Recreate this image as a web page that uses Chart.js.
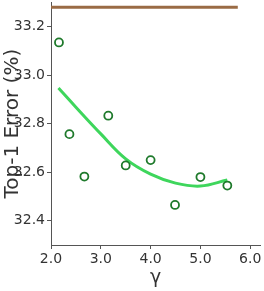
<!DOCTYPE html>
<html>
<head>
<meta charset="utf-8">
<script src="https://cdn.jsdelivr.net/npm/chart.js@4"></script>
<style>
  html, body { margin: 0; padding: 0; background: #fff; overflow: hidden; }
  #wrap { width: 266px; height: 299px; margin-top: -8px; }
</style>
</head>
<body>
<div id="wrap"><canvas id="chart"></canvas></div>
<script>
// measured runs
const gammaValues = [2.16, 2.37, 2.67, 3.15, 3.50, 4.00, 4.49, 5.00, 5.54];
const errorValues = [33.135, 32.757, 32.582, 32.833, 32.628, 32.650, 32.465, 32.580, 32.545];

// fitted trend
const fitX = [2.15, 2.5, 3.0, 3.5, 4.0, 4.5, 5.0, 5.54];
const fitY = [32.947, 32.868, 32.758, 32.655, 32.592, 32.555, 32.543, 32.568];

// reference line
const refX = [2.0, 5.75];
const refY = [33.28, 33.28];

const xTicks = [2.0, 3.0, 4.0, 5.0, 6.0];
const yTicks = [32.4, 32.6, 32.8, 33.0, 33.2];

const toPoints = (xs, ys) => xs.map((x, i) => ({ x: x, y: ys[i] }));
const axisColor = "#555";
const textColor = "#333";

new Chart(document.getElementById("chart"), {
  type: "scatter",
  data: {
    datasets: [
      {
        label: "runs",
        data: toPoints(gammaValues, errorValues),
        pointRadius: 4,
        pointBorderWidth: 1.8,
        pointBorderColor: "#1f7a2c",
        pointBackgroundColor: "rgba(255,255,255,0)",
        showLine: false
      },
      {
        label: "fit",
        data: toPoints(fitX, fitY),
        showLine: true,
        borderColor: "#3ed65c",
        borderWidth: 3,
        pointRadius: 0,
        tension: 0.4
      },
      {
        label: "ref",
        data: toPoints(refX, refY),
        showLine: true,
        borderColor: "#9a6b45",
        borderWidth: 3,
        pointRadius: 0
      }
    ]
  },
  options: {
    responsive: true,
    maintainAspectRatio: false,
    animation: false,
    layout: { padding: { top: 0, right: 0, left: 0, bottom: 0 } },
    plugins: { legend: { display: false }, tooltip: { enabled: false } },
    scales: {
      x: {
        type: "linear",
        min: 2.0,
        max: 6.2,
        afterBuildTicks: s => { s.ticks = xTicks.map(v => ({ value: v })); },
        afterFit: s => { s.height = 46; },
        grid: { display: true, drawOnChartArea: false, drawTicks: true, tickLength: 4, color: axisColor },
        border: { display: true, color: axisColor, width: 1 },
        ticks: {
          color: textColor, padding: 2,
          font: { family: "DejaVu Sans", size: 14 },
          maxRotation: 0,
          callback: v => v.toFixed(1)
        },
        title: {
          display: true, text: "γ", color: textColor,
          font: { family: "DejaVu Sans", size: 19 },
          padding: { top: 0, bottom: 2 }
        }
      },
      y: {
        type: "linear",
        min: 32.3,
        max: 33.3,
        afterBuildTicks: s => { s.ticks = yTicks.map(v => ({ value: v })); },
        afterFit: s => { s.width = 51; },
        grid: { display: true, drawOnChartArea: false, drawTicks: true, tickLength: 4, color: axisColor },
        border: { display: true, color: axisColor, width: 1 },
        ticks: {
          color: textColor, padding: 2,
          font: { family: "DejaVu Sans", size: 14 },
          callback: v => v.toFixed(1)
        },
        title: {
          display: true, text: "Top-1 Error (%)", color: textColor,
          font: { family: "DejaVu Sans", size: 20 },
          padding: { top: 1, bottom: 0 }
        }
      }
    }
  }
});
</script>
</body>
</html>
